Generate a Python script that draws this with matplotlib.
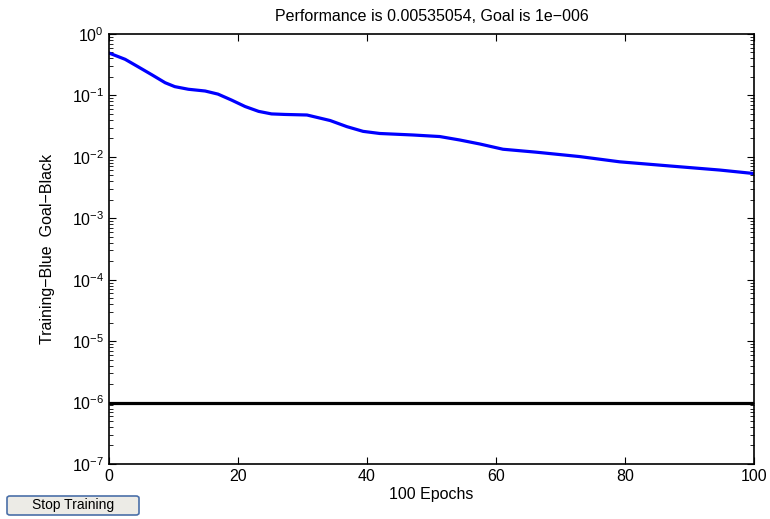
import matplotlib
matplotlib.use('Agg')
import matplotlib.pyplot as plt
from matplotlib.patches import FancyBboxPatch

plt.rcParams['font.family'] = ['Liberation Sans', 'DejaVu Sans']
plt.rcParams['mathtext.fontset'] = 'custom'
plt.rcParams['mathtext.rm'] = 'Liberation Sans'

# training performance
epochs = [0, 2.5, 4.5, 6.7, 8.7, 10.2, 12.3, 14.9, 16.9, 19, 21.1, 23.2, 25.2,
          27.3, 30.7, 34.3, 36.9, 39.4, 42, 47.1, 51.3, 54.4, 57.5, 61.1, 66.3,
          73, 79.2, 87, 94.7, 100]
perf = [0.49, 0.387, 0.293, 0.215, 0.161, 0.139, 0.126, 0.118, 0.105, 0.084,
        0.066, 0.055, 0.050, 0.049, 0.048, 0.039, 0.031, 0.026, 0.024, 0.0227,
        0.0214, 0.0188, 0.0162, 0.0133, 0.0119, 0.0101, 0.0083, 0.0071, 0.0061,
        0.00535]
goal = 1e-6
n_epochs = 100

fig = plt.figure(figsize=(7.7, 5.19), dpi=100)
ax = fig.add_axes([0.1416, 0.106, 0.8374, 0.8285])

ax.semilogy(epochs, perf, color='#0000ff', lw=2.3, solid_joinstyle='round')
ax.plot([0, n_epochs], [goal, goal], color='black', lw=2.3)

ax.set_xlim(0, n_epochs)
ax.set_ylim(1e-7, 1)
ax.set_xticks(range(0, 101, 20))
ax.tick_params(which='both', direction='in', top=True, right=True, labelsize=11.5)
ax.tick_params(which='major', length=5)
ax.tick_params(which='minor', length=3)
for s in ax.spines.values():
    s.set_linewidth(1.2)

ax.set_title('Performance is 0.00535054, Goal is 1e\u2212006', fontsize=11.5, pad=9)
ax.set_xlabel('%d Epochs' % n_epochs, fontsize=11.5, labelpad=2)
ax.set_ylabel('Training\u2212Blue  Goal\u2212Black', fontsize=11.5, labelpad=12)

# "Stop Training" button
btn = FancyBboxPatch((7 / 770, 4 / 519), 132 / 770, 19 / 519,
                     boxstyle='round,pad=0,rounding_size=0.004',
                     transform=fig.transFigure, facecolor='#ecebe6',
                     edgecolor='#4a6fa8', lw=1.2)
fig.patches.append(btn)
fig.text(73 / 770, 13.5 / 519, 'Stop Training', ha='center', va='center', fontsize=10)

fig.savefig('out.png', dpi=100)
